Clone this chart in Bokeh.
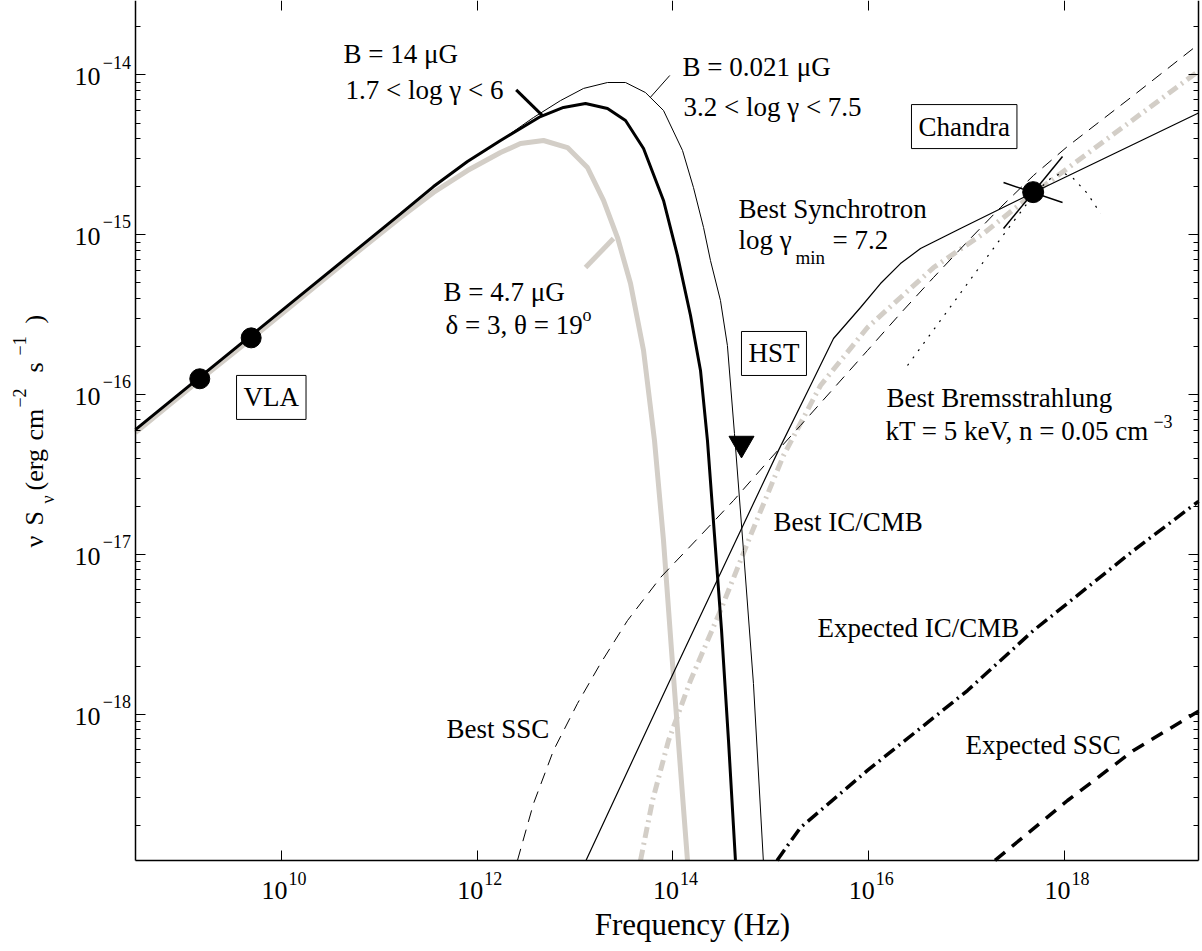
import numpy as np
from bokeh.plotting import figure
from bokeh.models import Label, LogAxis, FixedTicker, Range1d
from bokeh.embed import file_html
from bokeh.resources import INLINE

FONT = "Liberation Serif"
GRAY = "#d3cec7"

# ---------------- data: log10(nu / Hz), log10(nu S_nu / erg cm^-2 s^-1) ----------------
radio_lognu = [8.508, 9.172, 9.693, 10.705, 11.216, 11.553, 11.900, 12.238]
radio_logS = [-16.219, -15.888, -15.628, -15.124, -14.869, -14.698, -14.541, -14.410]

syn_b0021_lognu = [12.575, 12.851, 13.086, 13.331, 13.515, 13.719, 13.903, 14.097, 14.209,
                   14.312, 14.383, 14.485, 14.556, 14.628, 14.720, 14.822, 14.923]
syn_b0021_logS = [-14.266, -14.160, -14.084, -14.047, -14.047, -14.110, -14.222, -14.472, -14.704,
                  -14.954, -15.161, -15.411, -15.693, -16.243, -16.975, -17.808, -18.915]

syn_b14_lognu = [12.646, 12.881, 13.106, 13.331, 13.515, 13.699, 13.903, 14.046, 14.179,
                 14.281, 14.352, 14.424, 14.496, 14.567, 14.638]
syn_b14_logS = [-14.260, -14.203, -14.178, -14.210, -14.285, -14.460, -14.785, -15.130, -15.505,
                -15.849, -16.287, -16.881, -17.476, -18.164, -18.915]

gray_radio_logS = [-16.237, -15.905, -15.649, -15.142, -14.892, -14.735, -14.598, -14.485]
syn_b47_lognu = [12.442, 12.677, 12.922, 13.126, 13.290, 13.433, 13.566, 13.699, 13.811,
                 13.903, 13.985, 14.066, 14.148]
syn_b47_logS = [-14.429, -14.410, -14.454, -14.579, -14.785, -15.017, -15.305, -15.724, -16.287,
                -16.913, -17.601, -18.258, -18.915]

best_syn_lognu = [13.111, 13.944, 14.455, 15.078, 15.405, 15.640, 15.916, 16.120,
                  16.324, 16.529, 16.937, 17.683, 19.369]
best_syn_logS = [-18.915, -17.820, -17.157, -16.349, -15.943, -15.649, -15.455, -15.305,
                 -15.180, -15.086, -14.961, -14.735, -14.238]

best_ssc_lognu = [12.411, 12.575, 12.779, 13.024, 13.259, 13.535, 13.872, 14.281, 14.618,
                  14.996, 15.303, 15.640, 15.987, 16.324, 16.662, 17.009, 17.346, 17.683, 18.031,
                  18.705, 19.369]
best_ssc_logS = [-18.915, -18.559, -18.227, -17.933, -17.683, -17.414, -17.145, -16.882,
                 -16.663, -16.400, -16.193, -15.962, -15.724, -15.492, -15.267, -15.042, -14.829,
                 -14.629, -14.447, -14.128, -13.808]

best_iccmb_lognu = [13.668, 13.791, 13.954, 14.179, 14.485, 14.792, 15.129, 15.507,
                    15.987, 16.662, 17.172, 17.683, 19.369]
best_iccmb_logS = [-18.915, -18.540, -18.165, -17.789, -17.351, -16.882, -16.381, -15.943,
                   -15.580, -15.205, -14.992, -14.742, -13.976]

brems_lognu = [16.396, 16.733, 17.091, 17.448, 17.704, 17.857, 17.980, 18.092, 18.235, 18.368]
brems_logS = [-15.818, -15.536, -15.236, -14.942, -14.735, -14.648, -14.610, -14.648, -14.742, -14.867]

exp_iccmb_lognu = [15.063, 15.303, 15.987, 17.009, 17.683, 18.705, 19.369]
exp_iccmb_logS = [-18.915, -18.709, -18.352, -17.852, -17.476, -16.976, -16.668]

exp_ssc_lognu = [17.290, 18.031, 18.705, 19.369]
exp_ssc_logS = [-18.915, -18.540, -18.227, -17.981]

vla_lognu = [9.165, 9.690]
vla_logS = [-15.901, -15.645]
chandra_lognu = [17.680]
chandra_logS = [-14.733]
hst_lognu = [14.700]
hst_logS = [-16.306]
bowtie_a_lognu = [17.377, 17.980]
bowtie_a_logS = [-14.961, -14.510]
bowtie_b_lognu = [17.377, 17.980]
bowtie_b_logS = [-14.673, -14.798]

lead_b14_lognu = [12.398, 12.664]
lead_b14_logS = [-14.093, -14.253]
lead_b0021_lognu = [13.967, 13.770]
lead_b0021_logS = [-14.003, -14.139]
lead_b47_lognu = [13.106, 13.392]
lead_b47_logS = [-15.205, -15.023]

xtick_exp = [10, 12, 14, 16, 18]
ytick_exp = [-18, -17, -16, -15, -14]

# axes box (log10 limits) and the canvas extent around it
X_LO, X_HI = 8.5083, 19.369
Y_LO, Y_HI = -18.9155, -13.5338
CANVAS_X = (7.1290, 19.4100)
CANVAS_Y = (-19.4662, -13.5338)


def lin(a):
    return np.power(10.0, np.asarray(a, dtype=float))


p = figure(width=1202, height=948, x_axis_type="log", y_axis_type="log",
           x_range=Range1d(10 ** CANVAS_X[0], 10 ** CANVAS_X[1]),
           y_range=Range1d(10 ** CANVAS_Y[0], 10 ** CANVAS_Y[1]),
           output_backend="svg", toolbar_location=None,
           min_border_left=0, min_border_right=0, min_border_top=0, min_border_bottom=0)
p.outline_line_color = None
p.xgrid.visible = False
p.ygrid.visible = False
p.background_fill_color = "white"
p.border_fill_color = "white"

xt = FixedTicker(ticks=[10.0 ** e for e in xtick_exp], minor_ticks=[])
ymin_ticks = [k * 10.0 ** e for e in range(-19, -13) for k in range(2, 10)
              if 10 ** Y_LO <= k * 10.0 ** e <= 10 ** Y_HI]
yt = FixedTicker(ticks=[10.0 ** e for e in ytick_exp], minor_ticks=ymin_ticks)
XB = (10 ** X_LO, 10 ** X_HI)
YB = (10 ** Y_LO, 10 ** Y_HI)


def style_axis(ax, line=True):
    ax.major_tick_in = 10
    ax.major_tick_out = 0
    ax.minor_tick_in = 5
    ax.minor_tick_out = 0
    ax.major_tick_line_color = "black"
    ax.minor_tick_line_color = "black"
    ax.major_tick_line_width = 1
    ax.minor_tick_line_width = 1
    ax.axis_line_color = "black" if line else None
    ax.axis_line_width = 1.5
    ax.major_label_text_font_size = "1px"
    ax.major_label_text_alpha = 0
    ax.major_label_standoff = 0


bottom = p.xaxis[0]
bottom.ticker = xt
bottom.bounds = XB
bottom.fixed_location = YB[0]
style_axis(bottom)
left = p.yaxis[0]
left.ticker = yt
left.bounds = YB
left.fixed_location = XB[0]
style_axis(left)
top = LogAxis(ticker=xt, bounds=XB, fixed_location=YB[1])
style_axis(top, line=False)
p.add_layout(top, "above")
right = LogAxis(ticker=yt, bounds=YB, fixed_location=XB[1])
style_axis(right)
p.add_layout(right, "right")

# ---------------- curves ----------------
p.line(lin(radio_lognu + syn_b47_lognu), lin(gray_radio_logS + syn_b47_logS),
       line_color=GRAY, line_width=5)
p.line(lin(lead_b47_lognu), lin(lead_b47_logS), line_color=GRAY, line_width=5)
p.line(lin(best_iccmb_lognu), lin(best_iccmb_logS), line_color=GRAY, line_width=5,
       line_dash="11 5 2 5")

p.line(lin(radio_lognu + syn_b0021_lognu), lin(radio_logS + syn_b0021_logS),
       line_color="black", line_width=1)
p.line(lin(radio_lognu + syn_b14_lognu), lin(radio_logS + syn_b14_logS),
       line_color="black", line_width=3)
p.line(lin(lead_b14_lognu), lin(lead_b14_logS), line_color="black", line_width=3)
p.line(lin(lead_b0021_lognu), lin(lead_b0021_logS), line_color="black", line_width=1)

p.line(lin(best_syn_lognu), lin(best_syn_logS), line_color="black", line_width=1.2)
p.line(lin(best_ssc_lognu), lin(best_ssc_logS), line_color="black", line_width=1,
       line_dash="12 8")
p.line(lin(brems_lognu), lin(brems_logS), line_color="black", line_width=1.2,
       line_dash="2 7")
p.line(lin(exp_iccmb_lognu), lin(exp_iccmb_logS), line_color="black", line_width=3.5,
       line_dash="13 5 2 5")
p.line(lin(exp_ssc_lognu), lin(exp_ssc_logS), line_color="black", line_width=3.5,
       line_dash="13 9")

p.line(lin(bowtie_a_lognu), lin(bowtie_a_logS), line_color="black", line_width=1.5)
p.line(lin(bowtie_b_lognu), lin(bowtie_b_logS), line_color="black", line_width=1.5)

p.scatter(lin(vla_lognu), lin(vla_logS), marker="circle", size=20, color="black")
p.scatter(lin(chandra_lognu), lin(chandra_logS), marker="circle", size=21, color="black")
p.scatter(lin(hst_lognu), lin(hst_logS), marker="inverted_triangle", size=25, color="black")

# ---------------- texts ----------------
BASE = 0.33  # lifts Bokeh's label box so the alphabetic baseline sits where intended


def text(txt, x, y, size, dx=0.0, dy=0.0, align="left", rotated=False, **kw):
    if rotated:
        dx -= BASE * size
    else:
        dy += BASE * size
    p.add_layout(Label(x=x, y=y, text=txt, text_font=FONT, text_font_size=f"{size}px",
                       text_color="black", text_align=align, text_baseline="alphabetic",
                       x_offset=dx, y_offset=dy, angle=(np.pi / 2 if rotated else 0.0), **kw))


def note(txt, lx, ly, size=27):
    text(txt, 10 ** lx, 10 ** ly, size)


def boxed(txt, lx, ly):
    p.add_layout(Label(x=10 ** lx, y=10 ** ly, text=txt, text_font=FONT, text_font_size="27px",
                       text_color="black", text_baseline="alphabetic", text_align="left",
                       border_line_color="black", border_line_width=1,
                       background_fill_color="white", padding=7, x_offset=-11, y_offset=9))


note("B = 14 μG", 10.633, -13.922)
note("1.7 < log γ < 6", 10.654, -14.147)
note("B = 0.021 μG", 14.097, -14.003)
note("3.2 < log γ < 7.5", 14.107, -14.253)
boxed("Chandra", 16.549, -14.379)
note("Best Synchrotron", 14.669, -14.892)
note("log γ", 14.669, -15.086)
note("min", 15.252, -15.180, size=19)
note("= 7.2", 15.630, -15.086)
note("B = 4.7 μG", 11.655, -15.411)
note("δ = 3, θ = 19", 11.676, -15.618)
note("o", 13.075, -15.536, size=18)
boxed("HST", 14.812, -15.799)
boxed("VLA", 9.653, -16.074)
note("Best Bremsstrahlung", 16.181, -16.074)
note("kT = 5 keV, n = 0.05 cm", 16.171, -16.281)
note("−3", 18.909, -16.206, size=18)
note("Best IC/CMB", 15.027, -16.850)
note("Expected IC/CMB", 15.476, -17.514)
note("Best SSC", 11.686, -18.146)
note("Expected SSC", 16.989, -18.246)

# tick labels: 10 with a raised exponent
for e in xtick_exp:
    text("10", 10.0 ** e, YB[0], 26, dx=6, dy=-39, align="right")
    text(str(e), 10.0 ** e, YB[0], 18, dx=7, dy=-24)
for e in ytick_exp:
    text("10", XB[0], 10.0 ** e, 26, dx=-35, dy=-10.5, align="right")
    text("−" + str(-e), XB[0], 10.0 ** e, 18, dx=-4.5, dy=7, align="right")

# axis titles
text("Frequency (Hz)", 10 ** 14.199, YB[0], 31, dy=-74, align="center")

# y title pieces: (text, baseline offset left of the axis [px], log10 position along the axis, size)
ylabel_pieces = [("ν", -92, -16.957, 26), ("S", -92, -16.819, 26), ("ν", -82, -16.681, 18),
                 ("(erg", -92, -16.600, 26), ("cm", -92, -16.287, 26), ("−2", -110, -16.081, 18),
                 ("s", -92, -15.862, 26), ("−1", -110, -15.755, 18), (")", -92, -15.555, 26)]
for txt, dx, ly, fs in ylabel_pieces:
    text(txt, XB[0], 10 ** ly, fs, dx=dx, rotated=True)

open("out.html", "w").write(file_html(p, INLINE))
